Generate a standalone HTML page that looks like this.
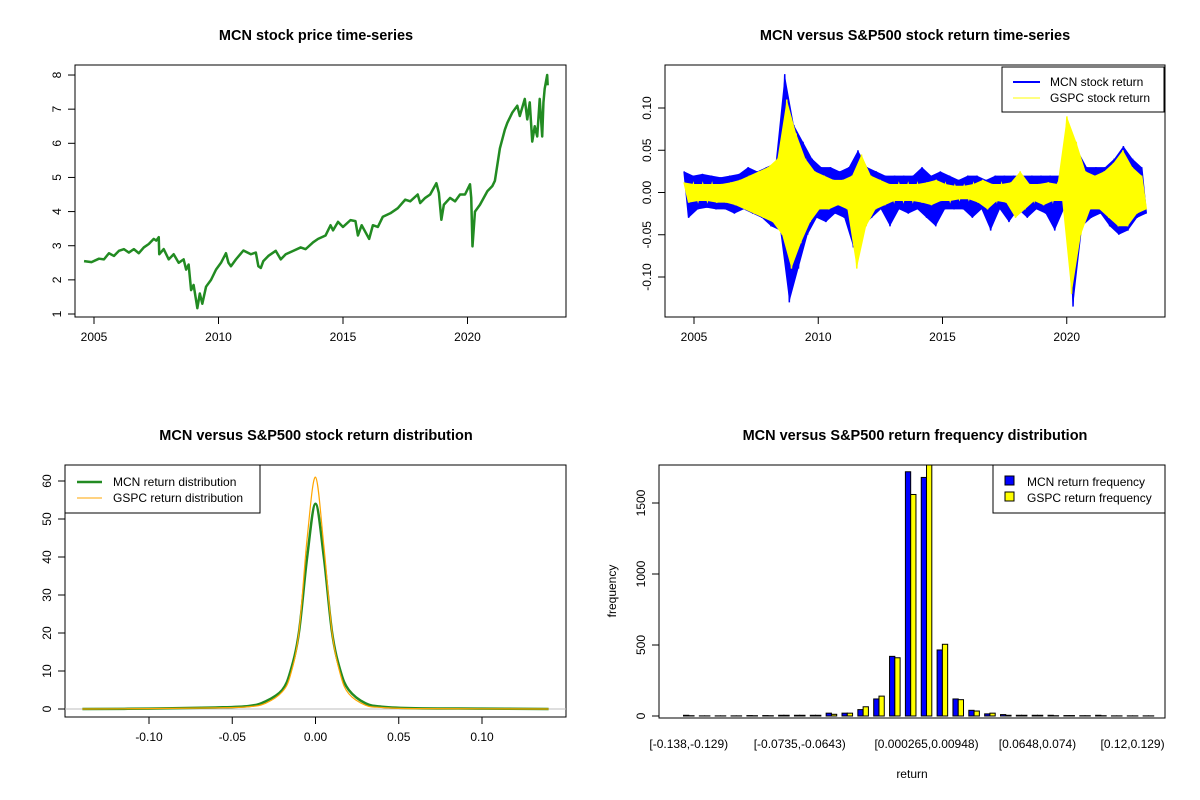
<!DOCTYPE html>
<html><head><meta charset="utf-8">
<style>
body{margin:0;background:#fff;}
svg{display:block;font-family:"Liberation Sans",Arial,sans-serif;}
</style></head>
<body>
<svg id="svg" width="1200" height="800" viewBox="0 0 1200 800">
<rect width="1200" height="800" fill="#fff"/>
<g font-weight="bold" font-size="14.5" text-anchor="middle" fill="#000">
<text x="316" y="40">MCN stock price time-series</text>
<text x="915" y="40">MCN versus S&amp;P500 stock return time-series</text>
<text x="316" y="440">MCN versus S&amp;P500 stock return distribution</text>
<text x="915" y="440">MCN versus S&amp;P500 return frequency distribution</text>
</g>
<g id="p1"></g>
<g id="p2"></g>
<g id="p3"></g>
<g id="p4"></g>
</svg>
<script>
// ---- data ----
const priceYears = [2004.6,2004.9,2005.2,2005.4,2005.6,2005.8,2006.0,2006.2,2006.4,2006.6,2006.8,2007.0,2007.2,2007.4,2007.5,2007.6,2007.62,2007.8,2008.0,2008.2,2008.4,2008.6,2008.7,2008.8,2008.9,2009.0,2009.1,2009.15,2009.25,2009.35,2009.5,2009.7,2009.9,2010.1,2010.3,2010.4,2010.5,2010.7,2011.0,2011.3,2011.5,2011.6,2011.7,2011.8,2012.0,2012.3,2012.5,2012.7,2013.0,2013.3,2013.5,2013.8,2014.0,2014.3,2014.5,2014.6,2014.8,2015.0,2015.3,2015.5,2015.6,2015.75,2015.9,2016.05,2016.2,2016.4,2016.6,2016.9,2017.2,2017.5,2017.7,2018.0,2018.1,2018.3,2018.5,2018.75,2018.85,2018.95,2019.05,2019.3,2019.5,2019.7,2019.9,2020.1,2020.15,2020.2,2020.3,2020.5,2020.8,2021.0,2021.1,2021.3,2021.5,2021.6,2021.8,2022.0,2022.1,2022.3,2022.4,2022.5,2022.6,2022.7,2022.8,2022.9,2023.0,2023.05,2023.1,2023.2,2023.22];
const priceValues = [2.55,2.52,2.62,2.6,2.78,2.7,2.85,2.9,2.8,2.9,2.78,2.95,3.05,3.2,3.15,3.25,2.75,2.9,2.6,2.75,2.5,2.6,2.3,2.45,1.7,1.85,1.4,1.17,1.6,1.3,1.8,2.0,2.3,2.5,2.78,2.5,2.4,2.6,2.86,2.75,2.8,2.4,2.35,2.55,2.7,2.85,2.6,2.75,2.85,2.95,2.9,3.1,3.2,3.3,3.6,3.45,3.7,3.55,3.75,3.72,3.3,3.6,3.4,3.2,3.6,3.55,3.85,3.95,4.1,4.35,4.3,4.5,4.25,4.4,4.5,4.83,4.55,3.76,4.2,4.4,4.3,4.5,4.5,4.8,4.4,2.98,4.0,4.2,4.6,4.75,4.9,5.85,6.4,6.6,6.9,7.1,6.8,7.3,6.7,7.2,6.05,6.5,6.2,7.3,6.2,7.2,7.6,8.0,7.7];
const priceTicks = [1,2,3,4,5,6,7,8];
const yearTicks = [2005,2010,2015,2020];
const mcnReturns = [0.025,-0.03,0.02,-0.02,0.022,-0.018,0.02,-0.02,0.018,-0.02,0.02,-0.025,0.022,-0.02,0.03,-0.025,0.025,-0.03,0.03,-0.04,0.035,-0.045,
0.14,-0.13,0.08,-0.09,0.06,-0.05,
0.04,-0.03,0.03,-0.035,0.03,-0.025,0.025,-0.03,0.03,
-0.065,0.05,-0.04,
0.03,-0.03,0.025,-0.02,0.02,-0.04,0.02,-0.02,0.02,-0.025,0.02,-0.02,0.03,-0.03,0.02,-0.04,0.025,-0.02,0.02,-0.02,0.015,-0.02,0.02,-0.03,0.02,-0.02,0.015,-0.045,0.02,-0.02,0.02,-0.035,0.02,-0.02,0.02,-0.03,0.02,-0.02,0.02,-0.025,0.02,-0.045,0.02,-0.02,
0.07,-0.135,0.05,-0.04,
0.03,-0.03,0.03,-0.025,0.03,-0.04,0.04,-0.05,0.055,-0.045,0.04,-0.03,0.03,-0.025];
const gspcReturns = [0.012,-0.012,0.01,-0.01,0.01,-0.01,0.01,-0.012,0.01,-0.012,0.012,-0.015,0.015,-0.02,0.02,-0.025,0.025,-0.03,0.03,-0.035,0.04,-0.05,
0.11,-0.09,0.07,-0.06,0.04,-0.035,
0.025,-0.02,0.02,-0.02,0.015,-0.015,0.015,-0.02,0.02,
-0.09,0.045,-0.04,
0.02,-0.02,0.015,-0.015,0.01,-0.01,0.01,-0.01,0.01,-0.01,0.01,-0.012,0.012,-0.015,0.015,-0.01,0.01,-0.01,0.008,-0.008,0.008,-0.008,0.01,-0.012,0.015,-0.02,0.01,-0.01,0.01,-0.012,0.012,-0.03,0.025,-0.02,0.01,-0.01,0.01,-0.015,0.012,-0.01,0.01,-0.01,
0.09,-0.12,0.06,-0.05,
0.025,-0.02,0.02,-0.02,0.025,-0.03,0.035,-0.04,0.05,-0.04,0.03,-0.025,0.02,-0.02];
const returnTicks = [-0.10,-0.05,0.00,0.05,0.10];
const returnTickLabels = ["-0.10","-0.05","0.00","0.05","0.10"];
const densityX = [-0.14,-0.1,-0.06,-0.04,-0.03,-0.02,-0.015,-0.01,-0.005,0,0.005,0.01,0.015,0.02,0.03,0.04,0.06,0.1,0.14];
const mcnDensity = [0,0.1,0.4,0.8,2,5,10,20,40,54,40,20,10,5,1.5,0.6,0.2,0.1,0];
const gspcDensity = [0,0.1,0.3,0.6,1.5,4.5,9,20,45,61,43,20,9,4,1,0.4,0.1,0.05,0];
const densityYTicks = [0,10,20,30,40,50,60];
const densityXTicks = [-0.10,-0.05,0.00,0.05,0.10];
const densityXLabels = ["-0.10","-0.05","0.00","0.05","0.10"];
const mcnFreq = [5,1,1,1,3,3,5,5,5,20,20,45,120,420,1720,1680,465,120,40,15,10,5,5,5,3,2,5,1,1,1];
const gspcFreq = [2,1,1,1,2,2,5,5,5,12,20,65,140,410,1560,1900,505,115,35,20,5,5,5,2,3,2,2,1,1,1];
const binLabels = {0:"[-0.138,-0.129)",7:"[-0.0735,-0.0643)",15:"[0.000265,0.00948)",22:"[0.0648,0.074)",28:"[0.12,0.129)"};
const freqTicks = [0,500,1000,1500];

// ---- helpers ----
const NS="http://www.w3.org/2000/svg";
function mk(parent,tag,attrs,txt){const e=document.createElementNS(NS,tag);for(const k in attrs)e.setAttribute(k,attrs[k]);if(txt!==undefined)e.textContent=txt;parent.appendChild(e);return e;}
function box(g,x0,y0,x1,y1){const r=mk(g,'rect',{x:x0,y:y0,width:x1-x0,height:y1-y0,fill:'none',stroke:'#000','stroke-width':1});

}
function yTick(g,x,y,label){const l=mk(g,'line',{x1:x-7,x2:x,y1:y,y2:y,stroke:'#000'});


const t=mk(g,'text',{x:x-14,y:y,'font-size':12,'text-anchor':'middle',transform:`rotate(-90 ${x-14} ${y})`},label);

}
function xTick(g,x,y,label){const l=mk(g,'line',{x1:x,x2:x,y1:y,y2:y+7,stroke:'#000'});


const t=mk(g,'text',{x:x,y:y+24,'font-size':12,'text-anchor':'middle'},label);

}

// ---- panel 1: price ----
(function(){
const g=document.getElementById('p1');
const L=75,R=566,T=65,B=317;
const X=y=>94+(y-2005)*24.9;
const Y=v=>314-(v-1)*34.14;
box(g,L,T,R,B);
mk(g,'line',{x1:L,x2:L,y1:Y(1),y2:Y(8),stroke:'#000'});
priceTicks.forEach(v=>yTick(g,L,Y(v),String(v)));
mk(g,'line',{x1:X(2005),x2:X(2020),y1:B,y2:B,stroke:'#000'});
yearTicks.forEach(v=>xTick(g,X(v),B,String(v)));
const p=mk(g,'polyline',{points:priceYears.map((y,i)=>X(y)+','+Y(priceValues[i])).join(' '),fill:'none',stroke:'#228B22','stroke-width':2.5,'stroke-linejoin':'round'});


})();

// ---- panel 2: returns ----
(function(){
const g=document.getElementById('p2');
const L=665,R=1165,T=65,B=317;
const X=y=>694+(y-2005)*24.85;
const Y=v=>192.5-v*845;
box(g,L,T,R,B);
mk(g,'line',{x1:L,x2:L,y1:Y(-0.10),y2:Y(0.10),stroke:'#000'});
returnTicks.forEach((v,i)=>yTick(g,L,Y(v),returnTickLabels[i]));
mk(g,'line',{x1:X(2005),x2:X(2020),y1:B,y2:B,stroke:'#000'});
yearTicks.forEach(v=>xTick(g,X(v),B,String(v)));
const t0=2004.6,t1=2023.2;
function series(arr,col,name){const n=arr.length;
const pts=arr.map((v,i)=>[X(t0+(t1-t0)*i/(n-1)),Y(v)]);
const top=pts.filter((p,i)=>arr[i]>=0), bot=pts.filter((p,i)=>arr[i]<0);
const band=mk(g,'polygon',{points:top.concat(bot.slice().reverse()).map(p=>p.join(',')).join(' '),fill:col,stroke:'none'});


const p=mk(g,'polyline',{points:pts.map(p=>p.join(',')).join(' '),fill:'none',stroke:col,'stroke-width':1.5});

}
series(mcnReturns,'#0000ff','mcn-return-line');
series(gspcReturns,'#ffff00','gspc-return-line');
const lg=mk(g,'g',{});


mk(lg,'rect',{x:1002,y:67,width:162,height:45,fill:'#fff',stroke:'#000'});
mk(lg,'line',{x1:1013,x2:1040,y1:82,y2:82,stroke:'#0000ff','stroke-width':2});
mk(lg,'line',{x1:1013,x2:1040,y1:98,y2:98,stroke:'#ffff00','stroke-width':1});
mk(lg,'text',{x:1050,y:86,'font-size':12},'MCN stock return');
mk(lg,'text',{x:1050,y:102,'font-size':12},'GSPC stock return');
})();

// ---- panel 3: density ----
(function(){
const g=document.getElementById('p3');
const L=65,R=566,T=465,B=717;
const X=v=>315.5+v*1665;
const Y=v=>709-v*3.8;
box(g,L,T,R,B);
mk(g,'line',{x1:L,x2:L,y1:Y(0),y2:Y(60),stroke:'#000'});
densityYTicks.forEach(v=>yTick(g,L,Y(v),String(v)));
mk(g,'line',{x1:X(-0.10),x2:X(0.10),y1:B,y2:B,stroke:'#000'});
densityXTicks.forEach((v,i)=>xTick(g,X(v),B,densityXLabels[i]));
const base=mk(g,'line',{x1:L,x2:R,y1:Y(0),y2:Y(0),stroke:'#bebebe'});


function smooth(xs,ys){const P=xs.map((x,i)=>[X(x),Y(ys[i])]);let d='M'+P[0].join(',');
for(let i=0;i<P.length-1;i++){const p0=P[Math.max(0,i-1)],p1=P[i],p2=P[i+1],p3=P[Math.min(P.length-1,i+2)];
const c1=[p1[0]+(p2[0]-p0[0])/6,p1[1]+(p2[1]-p0[1])/6],c2=[p2[0]-(p3[0]-p1[0])/6,p2[1]-(p3[1]-p1[1])/6];
d+=` C${c1} ${c2} ${p2}`;}return d;}
const b=mk(g,'path',{d:smooth(densityX,mcnDensity),fill:'none',stroke:'#228B22','stroke-width':2.5});


const a=mk(g,'path',{d:smooth(densityX,gspcDensity),fill:'none',stroke:'#ffa500','stroke-width':1.2});


const lg=mk(g,'g',{});


mk(lg,'rect',{x:65,y:465,width:195,height:48,fill:'#fff',stroke:'#000'});
mk(lg,'line',{x1:77,x2:102,y1:482,y2:482,stroke:'#228B22','stroke-width':2.5});
mk(lg,'line',{x1:77,x2:102,y1:498,y2:498,stroke:'#ffa500','stroke-width':1});
mk(lg,'text',{x:113,y:486,'font-size':12},'MCN return distribution');
mk(lg,'text',{x:113,y:502,'font-size':12},'GSPC return distribution');
})();

// ---- panel 4: frequency ----
(function(){
const g=document.getElementById('p4');
const L=659,R=1165,T=465,B=718;
const Y=v=>716-v*0.142;
const gx=i=>683.5+i*15.85; // group left
const bw=5.28;
const clip=mk(g,'clipPath',{id:'c4'});mk(clip,'rect',{x:L,y:T,width:R-L,height:B-T});
const bars=mk(g,'g',{'clip-path':'url(#c4)'});
mcnFreq.forEach((v,i)=>{
const r1=mk(bars,'rect',{x:gx(i),y:Y(v),width:bw,height:Y(0)-Y(v),fill:'#0000ff',stroke:'#000','stroke-width':1});


const w=gspcFreq[i];
const r2=mk(bars,'rect',{x:gx(i)+bw,y:Y(w),width:bw,height:Y(0)-Y(w),fill:'#ffff00',stroke:'#000','stroke-width':1});


});
box(g,L,T,R,B);
mk(g,'line',{x1:L,x2:L,y1:Y(0),y2:Y(1500),stroke:'#000'});
freqTicks.forEach(v=>yTick(g,L,Y(v),String(v)));
for(const k in binLabels){const t=mk(g,'text',{x:gx(+k)+bw,y:748,'font-size':12,'text-anchor':'middle'},binLabels[k]);

}
const xt=mk(g,'text',{x:912,y:778,'font-size':12,'text-anchor':'middle'},'return');


const yt=mk(g,'text',{x:616,y:591,'font-size':12,'text-anchor':'middle',transform:'rotate(-90 616 591)'},'frequency');


const lg=mk(g,'g',{});


mk(lg,'rect',{x:993,y:465,width:172,height:48,fill:'#fff',stroke:'#000'});
mk(lg,'rect',{x:1005,y:476,width:9,height:9,fill:'#0000ff',stroke:'#000'});
mk(lg,'rect',{x:1005,y:492,width:9,height:9,fill:'#ffff00',stroke:'#000'});
mk(lg,'text',{x:1027,y:486,'font-size':12},'MCN return frequency');
mk(lg,'text',{x:1027,y:502,'font-size':12},'GSPC return frequency');
})();
</script>
</body></html>
